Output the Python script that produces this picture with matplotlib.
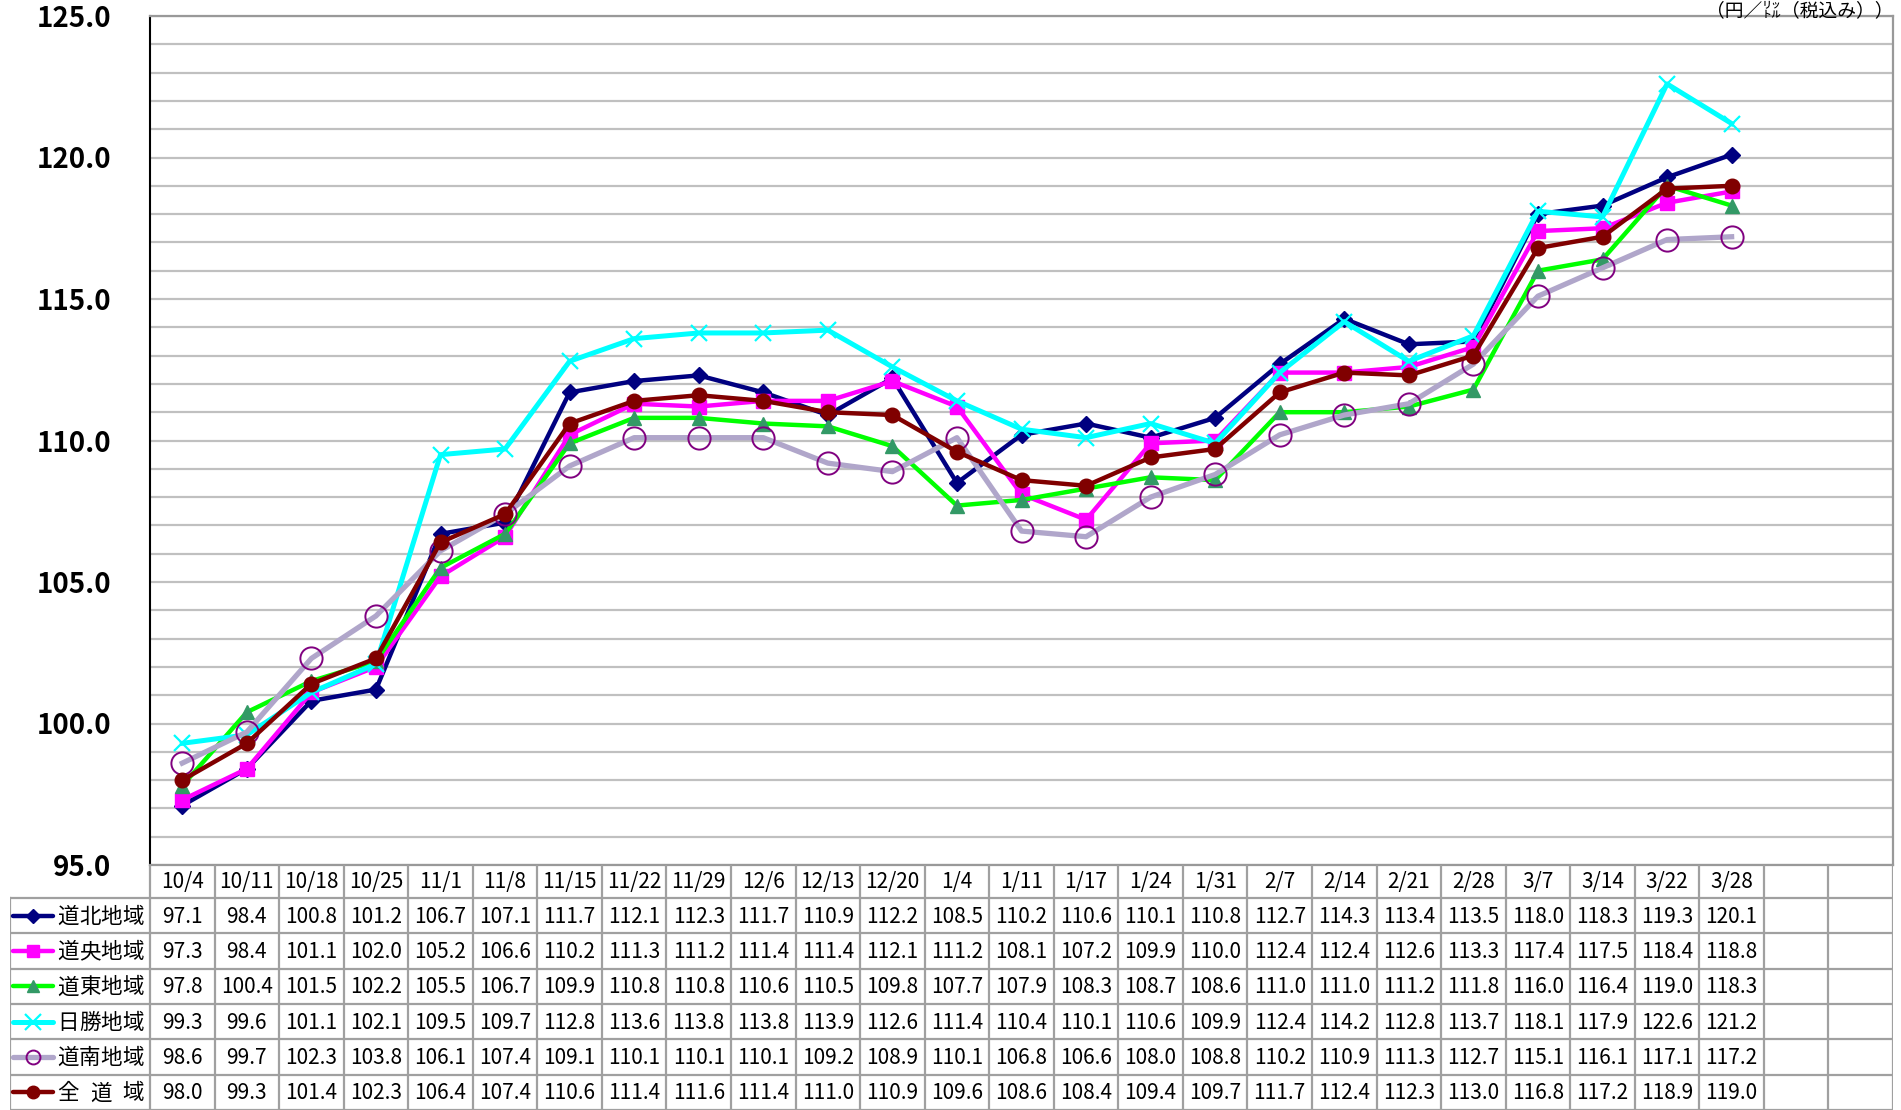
import matplotlib
matplotlib.use("Agg")
import matplotlib.pyplot as plt
import numpy as np

plt.rcParams['font.family'] = ['Noto Sans CJK JP', 'DejaVu Sans']

dates = ['10/4', '10/11', '10/18', '10/25', '11/1', '11/8', '11/15', '11/22', '11/29',
         '12/6', '12/13', '12/20', '1/4', '1/11', '1/17', '1/24', '1/31', '2/7', '2/14',
         '2/21', '2/28', '3/7', '3/14', '3/22', '3/28']

dohoku = [97.1, 98.4, 100.8, 101.2, 106.7, 107.1, 111.7, 112.1, 112.3, 111.7, 110.9, 112.2,
          108.5, 110.2, 110.6, 110.1, 110.8, 112.7, 114.3, 113.4, 113.5, 118.0, 118.3, 119.3, 120.1]
doo = [97.3, 98.4, 101.1, 102.0, 105.2, 106.6, 110.2, 111.3, 111.2, 111.4, 111.4, 112.1,
       111.2, 108.1, 107.2, 109.9, 110.0, 112.4, 112.4, 112.6, 113.3, 117.4, 117.5, 118.4, 118.8]
doto = [97.8, 100.4, 101.5, 102.2, 105.5, 106.7, 109.9, 110.8, 110.8, 110.6, 110.5, 109.8,
        107.7, 107.9, 108.3, 108.7, 108.6, 111.0, 111.0, 111.2, 111.8, 116.0, 116.4, 119.0, 118.3]
nissho = [99.3, 99.6, 101.1, 102.1, 109.5, 109.7, 112.8, 113.6, 113.8, 113.8, 113.9, 112.6,
          111.4, 110.4, 110.1, 110.6, 109.9, 112.4, 114.2, 112.8, 113.7, 118.1, 117.9, 122.6, 121.2]
donan = [98.6, 99.7, 102.3, 103.8, 106.1, 107.4, 109.1, 110.1, 110.1, 110.1, 109.2, 108.9,
         110.1, 106.8, 106.6, 108.0, 108.8, 110.2, 110.9, 111.3, 112.7, 115.1, 116.1, 117.1, 117.2]
zendo = [98.0, 99.3, 101.4, 102.3, 106.4, 107.4, 110.6, 111.4, 111.6, 111.4, 111.0, 110.9,
         109.6, 108.6, 108.4, 109.4, 109.7, 111.7, 112.4, 112.3, 113.0, 116.8, 117.2, 118.9, 119.0]

names = ['道北地域', '道央地域', '道東地域', '日勝地域', '道南地域', '全 道 域']
values = [dohoku, doo, doto, nissho, donan, zendo]

styles = [
    dict(color='#000080', lw=3.2, marker='D', ms=8, mfc='#000080', mec='#000080', mew=1),
    dict(color='#FF00FF', lw=3.2, marker='s', ms=9.5, mfc='#FF00FF', mec='#FF00FF', mew=1),
    dict(color='#00FF00', lw=3.2, marker='^', ms=10, mfc='#339966', mec='#339966', mew=1),
    dict(color='#00FFFF', lw=3.6, marker='x', ms=12, mfc='#00FFFF', mec='#00FFFF', mew=1.6),
    dict(color='#B0A6CA', lw=3.8, marker='o', ms=16, mfc='none', mec='#800080', mew=1.4),
    dict(color='#800000', lw=3.2, marker='o', ms=10.5, mfc='#800000', mec='#800000', mew=1),
]
legend_ms = [7, 8, 9, 11, 10, 9]

W, H = 1901, 1110
fig = plt.figure(figsize=(W / 100, H / 100), dpi=100)

x_left, x_right = 150, 1893
y_top, y_bot = 16, 865
ncols = 27
cw = (x_right - x_left) / ncols

ax = fig.add_axes([x_left / W, 1 - y_bot / H, (x_right - x_left) / W, (y_bot - y_top) / H])
ax.set_xlim(-0.5, ncols - 0.5)
ax.set_ylim(95, 125)
ax.set_yticks(np.arange(95, 125.1, 5))
ax.set_yticks(np.arange(95, 125.1, 1), minor=True)
ax.set_yticklabels([f"{v:.1f}" for v in np.arange(95, 125.1, 5)])
ax.tick_params(axis='y', which='both', length=0, pad=28, labelsize=20)
for lab in ax.get_yticklabels():
    lab.set_fontweight('bold')
ax.set_xticks([])
ax.grid(axis='y', which='both', color='#C0C0C0', lw=1.6, zorder=0)
ax.set_axisbelow(True)
ax.spines['left'].set_color('black')
ax.spines['left'].set_linewidth(1.5)
for sp in ['top', 'right', 'bottom']:
    ax.spines[sp].set_color('#999999')
    ax.spines[sp].set_linewidth(1.6)

xs = np.arange(len(dates))
for vals, st in zip(values, styles):
    ax.plot(xs, vals, **st, zorder=3)

# unit label
fig.text(x_right / W, 1 - 0.5 / H, '（円／㍑（税込み））', ha='right', va='top', fontsize=13.5)

# data table
tax = fig.add_axes([10 / W, 0, (x_right - 10) / W, (H - y_bot) / H])
tax.set_xlim(10, x_right)
tax.set_ylim(H, y_bot)
tax.axis('off')

hdr_bot = 898
nrows = len(names)
rh = (H - hdr_bot) / nrows
gc = '#A0A0A0'
glw = 1.6

for k in range(ncols + 1):
    xk = x_left + k * cw
    tax.plot([xk, xk], [y_bot, H], color=gc, lw=glw, solid_capstyle='butt')
tax.plot([10, 10], [hdr_bot, H], color=gc, lw=glw)
for r in range(nrows + 1):
    yr = hdr_bot + r * rh
    tax.plot([10, x_right], [yr, yr], color=gc, lw=glw)

for i, d in enumerate(dates):
    tax.text(x_left + (i + 0.5) * cw, (y_bot + hdr_bot) / 2 + 1, d, ha='center', va='center', fontsize=15)

lab_l, lab_r = 57, 144
for r, (nm, vals, st, lms) in enumerate(zip(names, values, styles, legend_ms)):
    yc = hdr_bot + (r + 0.5) * rh
    tax.plot([13, 53], [yc, yc], color=st['color'], lw=st['lw'], solid_capstyle='round')
    tax.plot([33], [yc], marker=st['marker'], ms=lms, mfc=st['mfc'], mec=st['mec'],
             mew=st['mew'], linestyle='none')
    chars = nm.replace(' ', '')
    n = len(chars)
    chw = (lab_r - lab_l) / 4
    step = (lab_r - lab_l - chw) / (n - 1) if n > 1 else 0
    for j, ch in enumerate(chars):
        tax.text(lab_l + chw / 2 + j * step, yc + 1, ch, ha='center', va='center', fontsize=15.5)
    for i, v in enumerate(vals):
        tax.text(x_left + (i + 0.5) * cw, yc + 1, f"{v:.1f}", ha='center', va='center', fontsize=15)

fig.savefig('out.png', dpi=100)
